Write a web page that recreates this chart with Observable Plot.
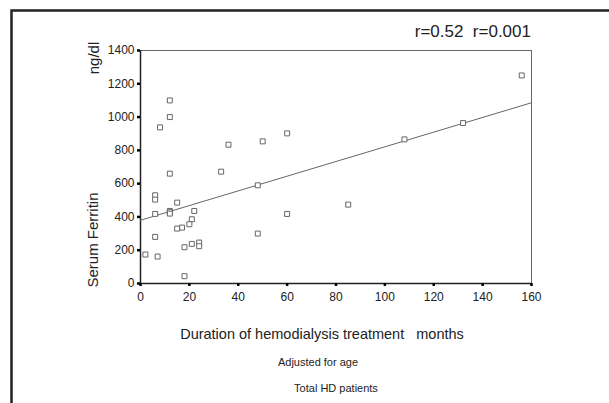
<!DOCTYPE html>
<html>
<head>
<meta charset="utf-8">
<script src="https://cdn.jsdelivr.net/npm/d3@7"></script>
<script src="https://cdn.jsdelivr.net/npm/@observablehq/plot@0.6"></script>
<style>
  html, body { margin: 0; padding: 0; background: #fff; }
  #chart { width: 609px; height: 403px; overflow: hidden; }
</style>
</head>
<body>
<div id="chart"></div>
<script>
// Duration of hemodialysis treatment (months) and serum ferritin (ng/dl)
const months   = [12, 12, 8, 12, 36, 33, 50, 60, 48, 6, 6, 6, 15, 12, 12, 12, 22, 21, 20, 17, 15, 6, 21, 24, 24, 18, 2, 7, 18, 48, 60, 85, 156, 132, 108];
const ferritin = [1100, 1000, 938, 660, 834, 672, 854, 902, 590, 530, 504, 418, 486, 436, 428, 420, 436, 386, 356, 336, 330, 280, 238, 246, 224, 218, 174, 162, 44, 300, 418, 474, 1250, 964, 866];
// Fitted regression line end points
const fitMonths   = [0, 160];
const fitFerritin = [380, 1086];
const xTicks = [0, 20, 40, 60, 80, 100, 120, 140, 160];
const yTicks = [0, 200, 400, 600, 800, 1000, 1200, 1400];

const points = months.map((m, i) => ({m, f: ferritin[i]}));
const fit = fitMonths.map((m, i) => ({m, f: fitFerritin[i]}));

const chart = Plot.plot({
  width: 609,
  height: 403,
  marginLeft: 140,
  marginRight: 78,
  marginTop: 50,
  marginBottom: 120,
  style: {fontFamily: "'Liberation Sans', Arial, sans-serif", fontSize: "12px", color: "#222", background: "#fff"},
  x: {domain: [0, 160], label: null},
  y: {domain: [0, 1400], label: null},
  marks: [
    Plot.frame({stroke: "#666", strokeWidth: 1}),
    Plot.ruleY([0], {stroke: "#222", strokeWidth: 1.5}),
    Plot.ruleX([0], {stroke: "#222", strokeWidth: 1.5}),
    Plot.axisX({ticks: xTicks, tickFormat: d3.format("d"), tickSize: 3, tickPadding: 6, stroke: "#000", strokeWidth: 2.5, fontSize: 12, fill: "#222"}),
    Plot.axisY({ticks: yTicks, tickFormat: d3.format("d"), tickSize: 3, tickPadding: 3, stroke: "#000", strokeWidth: 2.5, fontSize: 12, fill: "#222"}),
    Plot.line(fit, {x: "m", y: "f", stroke: "#666", strokeWidth: 1}),
    Plot.dot(points, {x: "m", y: "f", symbol: "square", r: 2.8, stroke: "#666", strokeWidth: 1, fill: "#fff"})
  ]
});

const svg = d3.select(chart);
svg.append("rect")
  .attr("x", 11.5).attr("y", 10.5).attr("width", 640).attr("height", 440)
  .attr("fill", "none").attr("stroke", "#222").attr("stroke-width", 2.5);

const font = "'Liberation Sans', Arial, sans-serif";
svg.append("text").attr("x", 531).attr("y", 37).attr("text-anchor", "end")
  .attr("font-family", font).attr("font-size", 17).attr("fill", "#222")
  .style("white-space", "pre")
  .text("r=0.52  r=0.001");
svg.append("text").attr("transform", "translate(99,58) rotate(-90)").attr("text-anchor", "middle")
  .attr("font-family", font).attr("font-size", 15).attr("fill", "#222")
  .text("ng/dl");
svg.append("text").attr("transform", "translate(98,240) rotate(-90)").attr("text-anchor", "middle")
  .attr("font-family", font).attr("font-size", 15).attr("fill", "#222")
  .text("Serum Ferritin");
svg.append("text").attr("x", 322).attr("y", 339).attr("text-anchor", "middle")
  .attr("font-family", font).attr("font-size", 14.5).attr("fill", "#222")
  .style("white-space", "pre")
  .text("Duration of hemodialysis treatment   months");
svg.append("text").attr("x", 318).attr("y", 366).attr("text-anchor", "middle")
  .attr("font-family", font).attr("font-size", 11).attr("fill", "#222")
  .text("Adjusted for age");
svg.append("text").attr("x", 336).attr("y", 392).attr("text-anchor", "middle")
  .attr("font-family", font).attr("font-size", 11).attr("fill", "#222")
  .text("Total HD patients");

document.getElementById("chart").appendChild(chart);
</script>
</body>
</html>
